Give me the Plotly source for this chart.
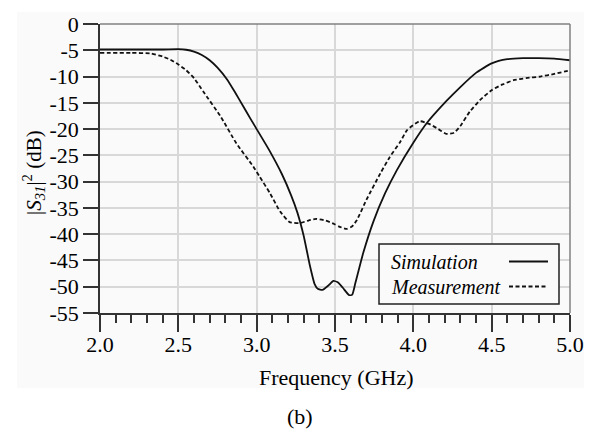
import plotly.graph_objects as go

# ---- data ----
freq_sim = [2.0, 2.2, 2.4, 2.5, 2.55, 2.6, 2.65, 2.7, 2.75, 2.81, 2.86, 2.915, 2.96, 3.0,
            3.08, 3.16, 3.22, 3.26, 3.30, 3.34, 3.37, 3.39, 3.42, 3.46, 3.49, 3.52, 3.55,
            3.59, 3.61, 3.63, 3.68, 3.745, 3.82, 3.895, 4.0, 4.085, 4.21, 4.3, 4.4, 4.5,
            4.6, 4.7, 4.8, 4.9, 5.0]
s31_sim = [-4.85, -4.85, -4.85, -4.8, -4.9, -5.25, -5.9, -6.9, -8.3, -10.5, -12.9, -15.7,
           -18.0, -20.0, -24.0, -28.5, -32.6, -35.9, -40.3, -46.0, -49.5, -50.4, -50.6,
           -49.7, -48.9, -49.2, -50.2, -51.6, -51.5, -49.3, -43.6, -37.6, -32.2, -27.8,
           -22.6, -18.9, -14.7, -12.0, -9.3, -7.5, -6.7, -6.5, -6.5, -6.6, -6.9]

freq_meas = [2.0, 2.2, 2.32, 2.4, 2.45, 2.5, 2.55, 2.6, 2.66, 2.77, 2.87, 2.98, 3.02, 3.085,
             3.15, 3.21, 3.275, 3.33, 3.38, 3.44, 3.49, 3.53, 3.575, 3.61, 3.64, 3.70, 3.79,
             3.85, 3.915, 3.96, 4.04, 4.1, 4.16, 4.21, 4.26, 4.30, 4.36, 4.425, 4.5, 4.57,
             4.64, 4.72, 4.81, 4.9, 5.0]
s31_meas = [-5.5, -5.5, -5.6, -6.2, -6.8, -7.7, -8.8, -10.3, -12.9, -17.6, -22.7, -27.2,
            -29.1, -32.2, -35.7, -37.7, -37.9, -37.4, -37.1, -37.4, -38.0, -38.6, -39.0,
            -38.5, -37.3, -33.5, -28.4, -25.3, -22.5, -20.2, -18.5, -19.0, -20.0, -20.9,
            -20.7, -19.4, -16.7, -14.5, -12.6, -11.5, -10.7, -10.3, -10.0, -9.5, -8.8]

x_ticks = [2.0, 2.5, 3.0, 3.5, 4.0, 4.5, 5.0]
x_tick_labels = ["2.0", "2.5", "3.0", "3.5", "4.0", "4.5", "5.0"]
y_ticks = [0, -5, -10, -15, -20, -25, -30, -35, -40, -45, -50, -55]
y_tick_labels = ["0", "-5", "-10", "-15", "-20", "-25", "-30", "-35", "-40", "-45", "-50", "-55"]

series_names = ["Simulation", "Measurement"]

FONT = "Liberation Serif"
INK = "#000000"

fig = go.Figure()
fig.add_trace(go.Scatter(x=freq_sim, y=s31_sim, mode="lines", name=series_names[0],
                         line=dict(color="#111111", width=1.8, shape="spline", smoothing=0.5),
                         showlegend=False))
fig.add_trace(go.Scatter(x=freq_meas, y=s31_meas, mode="lines", name=series_names[1],
                         line=dict(color="#111111", width=1.8, dash="4px,2.5px",
                                   shape="spline", smoothing=0.5),
                         showlegend=False))

L, R, T, B = 100, 27, 24, 117
W, H = 597, 430
pw, ph = W - L - R, H - T - B


def px(xp):
    return (xp - L) / pw


def py(yp):
    return (H - B - yp) / ph


shapes = [
    dict(type="rect", xref="paper", yref="paper", x0=px(17), x1=px(584), y0=py(388), y1=py(12),
         fillcolor="#fafafa", line=dict(width=0), layer="below"),
    dict(type="line", xref="paper", yref="paper", x0=0, x1=1, y0=1, y1=1,
         line=dict(color="#808080", width=1.5)),
    dict(type="line", xref="paper", yref="paper", x0=1, x1=1, y0=0, y1=1,
         line=dict(color="#808080", width=1.5)),
    dict(type="rect", xref="paper", yref="paper", x0=px(379), x1=px(559), y0=py(304), y1=py(244),
         fillcolor="#fafafa", line=dict(color="#222222", width=1.5)),
    dict(type="line", xref="paper", yref="paper", x0=px(509), x1=px(548), y0=py(261.5), y1=py(261.5),
         line=dict(color="#111111", width=1.8)),
    dict(type="line", xref="paper", yref="paper", x0=px(509), x1=px(548), y0=py(286.5), y1=py(286.5),
         line=dict(color="#111111", width=1.8, dash="4px,2.5px")),
]

annotations = [
    dict(text=f"<i>{series_names[0]}</i>", xref="paper", yref="paper", x=px(389), y=py(262),
         xanchor="left", yanchor="middle", showarrow=False, font=dict(family=FONT, size=20, color=INK)),
    dict(text=f"<i>{series_names[1]}</i>", xref="paper", yref="paper", x=px(389), y=py(287),
         xanchor="left", yanchor="middle", showarrow=False, font=dict(family=FONT, size=20, color=INK)),
    dict(text="Frequency (GHz)", xref="paper", yref="paper", x=px(336), y=py(377),
         xanchor="center", yanchor="middle", showarrow=False, font=dict(family=FONT, size=22, color=INK)),
    dict(text="(b)", xref="paper", yref="paper", x=px(300), y=py(416),
         xanchor="center", yanchor="middle", showarrow=False, font=dict(family=FONT, size=22, color=INK)),
    dict(text="|<i>S</i><sub><i>31</i></sub>|<sup>2</sup> (dB)", xref="paper", yref="paper",
         x=px(33), y=py(173), xanchor="center", yanchor="middle", textangle=-90, showarrow=False,
         font=dict(family=FONT, size=21, color=INK)),
]

fig.update_layout(
    width=W, height=H,
    margin=dict(l=L, r=R, t=T, b=B, pad=0, autoexpand=False),
    paper_bgcolor="white", plot_bgcolor="#fafafa",
    font=dict(family=FONT, size=22, color=INK),
    shapes=shapes, annotations=annotations,
    showlegend=False,
)
fig.update_xaxes(
    range=[2.0, 5.0], tickvals=x_ticks, ticktext=x_tick_labels, automargin=False,
    showgrid=True, gridcolor="#d8d8d8", gridwidth=1.5,
    showline=True, linecolor="#333333", linewidth=1.5,
    ticks="outside", ticklen=17, tickwidth=1.5, tickcolor="#333333",
    ticklabelstandoff=-6,
    minor=dict(dtick=0.1, tick0=2.0, ticks="outside", ticklen=8, tickwidth=1.5,
               tickcolor="#333333", showgrid=False),
    zeroline=False, tickfont=dict(family=FONT, size=22, color=INK),
)
fig.update_yaxes(
    range=[-55, 0], tickvals=y_ticks, ticktext=y_tick_labels, automargin=False,
    showgrid=True, gridcolor="#d8d8d8", gridwidth=1.5,
    showline=True, linecolor="#333333", linewidth=1.5,
    ticks="outside", ticklen=15, tickwidth=1.5, tickcolor="#333333",
    zeroline=False, tickfont=dict(family=FONT, size=22, color=INK),
)

fig.write_html("out.html", config={"displayModeBar": False},
               post_script="document.body.style.margin='0';document.body.style.overflow='hidden';")
